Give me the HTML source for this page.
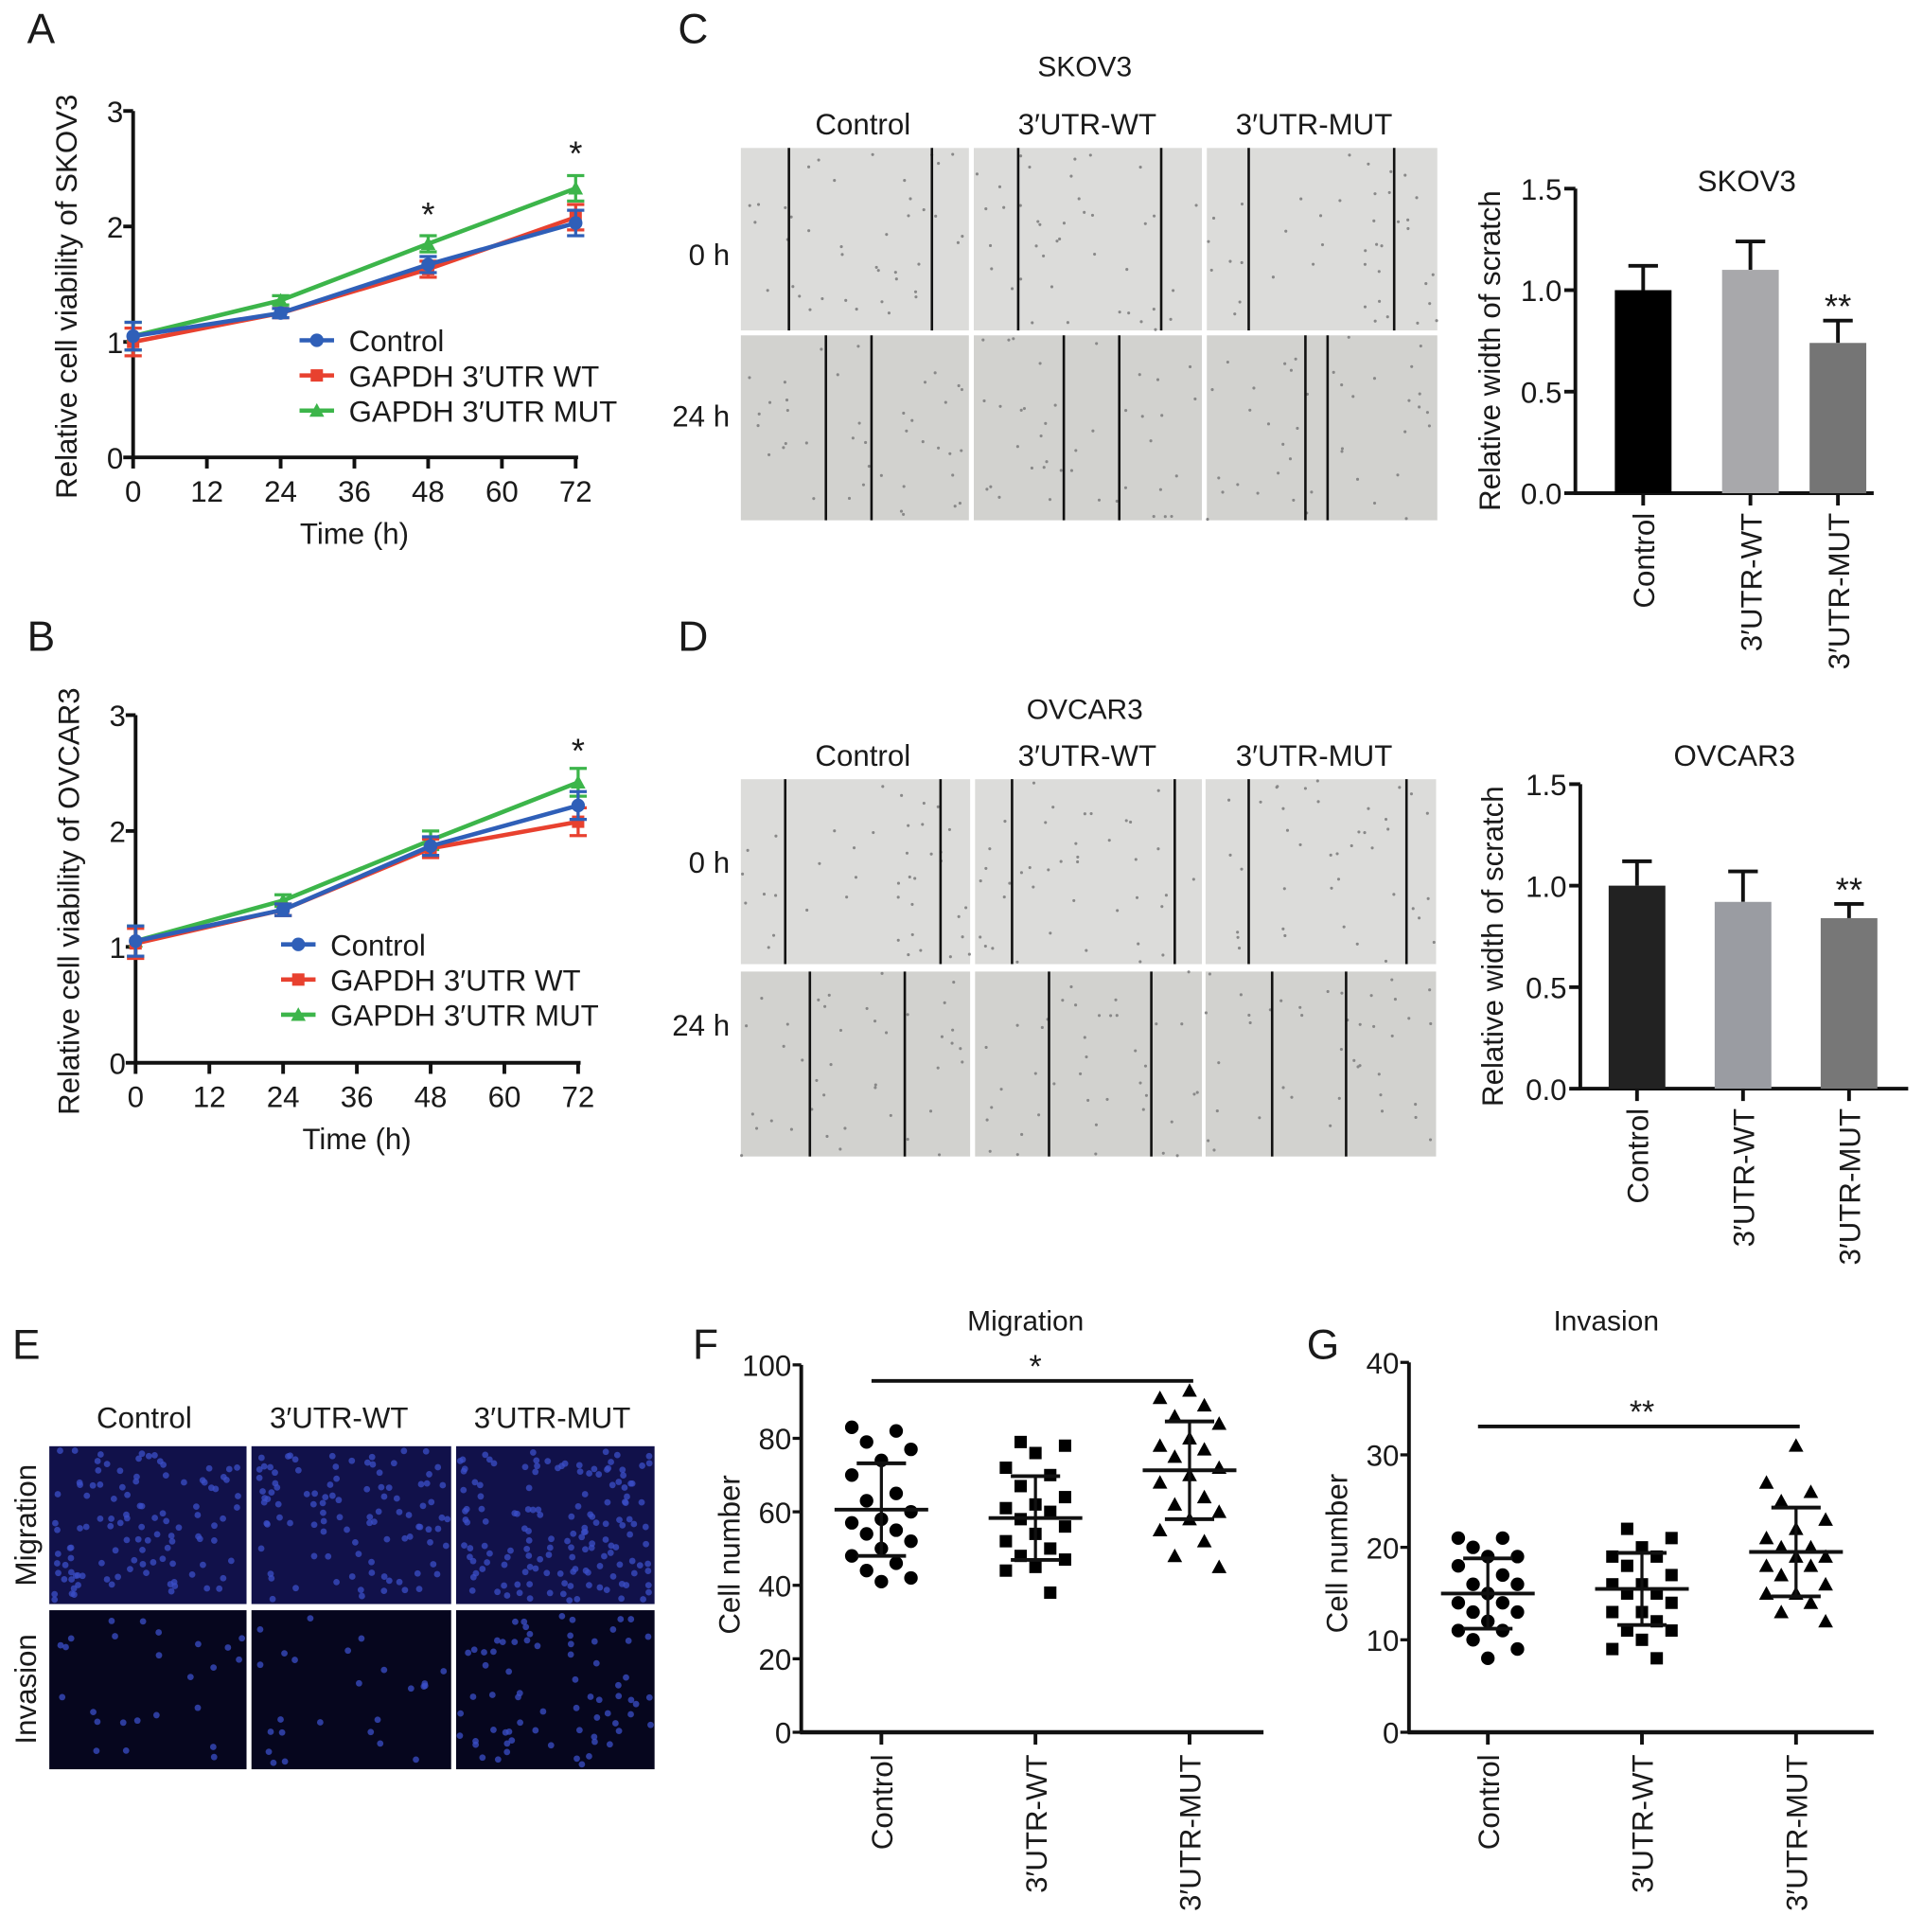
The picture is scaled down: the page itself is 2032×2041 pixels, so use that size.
<!DOCTYPE html>
<html><head><meta charset="utf-8"><style>
html,body{margin:0;padding:0;background:#fff}
svg{display:block}
text{font-family:"Liberation Sans",Arial,sans-serif;fill:#1a1a1a}
</style></head><body>
<svg id="fig" xmlns="http://www.w3.org/2000/svg" width="2032" height="2041" viewBox="0 0 1560 1567" preserveAspectRatio="none"></svg>
<script>
// ---- Panel A/B line chart data ----
const timeTicks = [0, 12, 24, 36, 48, 60, 72];
const timePoints = [0, 24, 48, 72];
const seriesNames = ["Control", "GAPDH 3\u2032UTR WT", "GAPDH 3\u2032UTR MUT"];
const aControl = [1.05, 1.25, 1.67, 2.03];
const aWT = [1.00, 1.25, 1.63, 2.08];
const aMUT = [1.05, 1.36, 1.85, 2.33];
const aErr = [0.12, 0.04, 0.07, 0.11];
const bControl = [1.05, 1.32, 1.87, 2.22];
const bWT = [1.03, 1.32, 1.85, 2.08];
const bMUT = [1.05, 1.40, 1.92, 2.42];
const bErr = [0.13, 0.05, 0.08, 0.12];
const viabTicks = [0, 1, 2, 3];
// ---- Panel C/D bar data ----
const barCats = ["Control", "3\u2032UTR-WT", "3\u2032UTR-MUT"];
const cValues = [1.0, 1.1, 0.74];
const cErrors = [0.12, 0.14, 0.11];
const dValues = [1.0, 0.92, 0.84];
const dErrors = [0.12, 0.15, 0.07];
const widthTicks = [0.0, 0.5, 1.0, 1.5];
const widthTickLabels = ["0.0", "0.5", "1.0", "1.5"];
// ---- Panel F/G scatter data ----
const fControl = [83,82,79,77,74,70,65,63,60,58,57,55,54,52,50,48,46,44,42,41];
const fWT = [79,78,76,72,70,67,64,62,61,60,58,56,54,52,50,48,47,45,44,38];
const fMUT = [93,91,89,86,84,80,78,77,75,72,70,68,64,62,60,58,55,52,48,45];
const fMean = [60.6, 58.3, 71.3];
const fSD = [12.6, 11.4, 13.3];
const fTicks = [0, 20, 40, 60, 80, 100];
const gControl = [21,21,20,19,19,18,17,16,16,15,14,14,13,13,12,11,11,10,9,8];
const gWT = [22,21,20,19,19,18,17,16,16,15,15,14,13,13,12,11,11,10,9,8];
const gMUT = [31,27,26,25,23,22,21,20,20,19,19,18,18,17,16,15,15,14,13,12];
const gMean = [15.0, 15.5, 19.5];
const gSD = [3.8, 3.9, 4.8];
const gTicks = [0, 10, 20, 30, 40];

const NS = "http://www.w3.org/2000/svg";
const svg = document.getElementById("fig");
function el(tag, attrs, parent) {
  const e = document.createElementNS(NS, tag);
  for (const k in attrs) e.setAttribute(k, attrs[k]);
  (parent || svg).appendChild(e);
  return e;
}
function txt(x, y, s, size, anchor, name, extra) {
  const t = el("text", Object.assign({x: x, y: y, "font-size": size, "text-anchor": anchor || "middle"}, extra || {}));
  t.textContent = s;
  
  
  return t;
}
function line(x1, y1, x2, y2, stroke, w, name, g) {
  const l = el("line", {x1: x1, y1: y1, x2: x2, y2: y2, stroke: stroke, "stroke-width": w}, g);
  
  
  return l;
}

// panel letters
[["A",22,35],["B",22,528],["C",550,35],["D",550,528],["E",10,1102],["F",562,1102],["G",1060,1102]].forEach(p => {
  txt(p[1], p[2], p[0], 34, "start", "panel-label-" + p[0].toLowerCase());
});

// ---------- line charts ----------
function lineChart(x0, y0, yTop, xEnd, ctrl, wt, mut, err, stars, legX, legY, yTitle, key) {
  const sx = t => x0 + (t / 72) * (xEnd - x0);
  const sy = v => y0 - (v / 3) * (y0 - yTop);
  const g = el("g", {});
  
  
  line(x0, yTop, x0, y0 + 1, "#111", 3, key + "-y-axis", g);
  line(x0 - 1, y0, xEnd + 2, y0, "#111", 3, key + "-x-axis", g);
  viabTicks.forEach(v => {
    line(x0 - 8, sy(v), x0, sy(v), "#111", 3, key + "-y-tick", g);
    txt(x0 - 8, sy(v) + 9, String(v), 24, "end", key + "-y-tick-label");
  });
  timeTicks.forEach(t => {
    line(sx(t), y0, sx(t), y0 + 9, "#111", 3, key + "-x-tick", g);
    txt(sx(t), y0 + 36, String(t), 24, "middle", key + "-x-tick-label");
  });
  txt((x0 + xEnd) / 2, y0 + 70, "Time (h)", 24, "middle", key + "-x-axis-title");
  txt(0, 0, yTitle, 24, "middle", key + "-y-axis-title", {transform: "translate(" + (x0 - 46) + "," + ((y0 + yTop) / 2 + 10) + ") rotate(-90)"});
  const cols = ["#2f5fb8", "#e8412f", "#3cb54a"];
  const sets = [ctrl, wt, mut];
  const order = [2, 1, 0];
  order.forEach(si => {
    const vals = sets[si];
    const pts = vals.map((v, i) => sx(timePoints[i]) + "," + sy(v)).join(" ");
    const pl = el("polyline", {points: pts, fill: "none", stroke: cols[si], "stroke-width": 3.5}, g);
    
    
    vals.forEach((v, i) => {
      const x = sx(timePoints[i]);
      line(x, sy(v - err[i]), x, sy(v + err[i]), cols[si], 2.5, key + "-error-bar", g);
      line(x - 7, sy(v + err[i]), x + 7, sy(v + err[i]), cols[si], 2.5, key + "-error-cap", g);
      line(x - 7, sy(v - err[i]), x + 7, sy(v - err[i]), cols[si], 2.5, key + "-error-cap", g);
      let m;
      if (si === 0) m = el("circle", {cx: x, cy: sy(v), r: 5.5, fill: cols[si]}, g);
      else if (si === 1) m = el("rect", {x: x - 5, y: sy(v) - 5, width: 10, height: 10, fill: cols[si]}, g);
      else m = el("polygon", {points: (x-6)+","+(sy(v)+5)+" "+(x+6)+","+(sy(v)+5)+" "+x+","+(sy(v)-6), fill: cols[si]}, g);
      
      
    });
  });
  stars.forEach(s => txt(sx(s[0]), sy(s[1]) + 12, "*", 28, "middle", key + "-significance-star"));
  seriesNames.forEach((n, i) => {
    const y = legY + i * 28.5;
    line(legX, y, legX + 28, y, cols[i], 3.5, key + "-legend-line", g);
    let m;
    if (i === 0) m = el("circle", {cx: legX + 14, cy: y, r: 5.5, fill: cols[i]}, g);
    else if (i === 1) m = el("rect", {x: legX + 9, y: y - 5, width: 10, height: 10, fill: cols[i]}, g);
    else m = el("polygon", {points: (legX+8)+","+(y+5)+" "+(legX+20)+","+(y+5)+" "+(legX+14)+","+(y-6), fill: cols[i]}, g);
    
    
    txt(legX + 40, y + 9, n, 24, "start", key + "-legend-entry");
  });
}
lineChart(108, 371, 90, 467, aControl, aWT, aMUT, aErr, [[48, 2.13], [72, 2.66]], 243, 276, "Relative cell viability of SKOV3", "a");
lineChart(110, 862, 580, 469, bControl, bWT, bMUT, bErr, [[72, 2.72]], 228, 766, "Relative cell viability of OVCAR3", "b");

// ---------- scratch images ----------
function scratchPanel(title, titleY, headY, xs, rows, labelYs, lines, key, seedBase) {
  txt(880, titleY, title, 23, "middle", key + "-cell-line-title");
  const hx = [700, 882, 1066];
  barCats.forEach((c, i) => txt(hx[i], headY, c, 24, "middle", key + "-column-header"));
  const rl = ["0 h", "24 h"];
  rows.forEach((r, ri) => {
    txt(592, labelYs[ri], rl[ri], 24, "end", key + "-row-label");
    xs.forEach((c, ci) => {
      const rc = el("rect", {x: c[0], y: r[0], width: c[1] - c[0], height: r[1] - r[0], fill: ri === 0 ? "#dcdcda" : "#d2d2cf"});
      
      
      let s = seedBase + ri * 7 + ci * 13;
      for (let k = 0; k < 40; k++) {
        s = (s * 9301 + 49297) % 233280;
        const px = c[0] + (s / 233280) * (c[1] - c[0]);
        s = (s * 9301 + 49297) % 233280;
        const py = r[0] + (s / 233280) * (r[1] - r[0]);
        const d = el("circle", {cx: px, cy: py, r: 1.2, fill: "#888"});
        
        
      }
      lines[ri][ci].forEach(lx => line(lx, r[0], lx, r[1], "#111", 2, key + "-scratch-edge"));
    });
  });
}
scratchPanel("SKOV3", 62, 109, [[601,786],[790,975],[979,1166]], [[120,268],[272,422]], [215, 346],
  [[[640,756],[826,942],[1013,1131]], [[670,707],[863,908],[1059,1077]]], "c", 11);
scratchPanel("OVCAR3", 583, 621, [[601,787],[791,975],[978,1165]], [[632,782],[788,938]], [708, 840],
  [[[637,763],[821,953],[1013,1141]], [[657,734],[851,934],[1032,1092]]], "d", 37);

// ---------- bar charts ----------
function barChart(x0, y0, yTop, xEnd, centers, vals, errs, colors, title, titleX, titleY, starIdx, yTitleX, key) {
  const sy = v => y0 - (v / 1.5) * (y0 - yTop);
  line(x0, yTop, x0, y0 + 1, "#111", 3, key + "-y-axis");
  line(x0 - 1, y0, xEnd, y0, "#111", 3, key + "-x-axis");
  widthTicks.forEach((v, i) => {
    line(x0 - 9, sy(v), x0, sy(v), "#111", 3, key + "-y-tick");
    txt(x0 - 11, sy(v) + 9, widthTickLabels[i], 24, "end", key + "-y-tick-label");
  });
  txt(titleX, titleY, title, 24, "middle", key + "-chart-title");
  txt(0, 0, "Relative width of scratch", 24, "middle", key + "-y-axis-title", {transform: "translate(" + yTitleX + "," + ((y0 + yTop) / 2 + 8) + ") rotate(-90)"});
  vals.forEach((v, i) => {
    const c = centers[i];
    line(c, sy(v), c, sy(v + errs[i]), "#111", 3, key + "-error-bar");
    line(c - 12, sy(v + errs[i]), c + 12, sy(v + errs[i]), "#111", 3, key + "-error-cap");
    const b = el("rect", {x: c - 23, y: sy(v), width: 46, height: y0 - sy(v), fill: colors[i]});
    
    
    line(c, y0, c, y0 + 10, "#111", 3, key + "-x-tick");
    txt(0, 0, barCats[i], 24, "end", key + "-x-tick-label", {transform: "translate(" + (c + 9) + "," + (y0 + 16) + ") rotate(-90)"});
  });
  const si = starIdx;
  txt(centers[si], sy(vals[si] + errs[si]) - 2, "**", 28, "middle", key + "-significance-star");
}
barChart(1278, 400, 153, 1520, [1333, 1420, 1491], cValues, cErrors, ["#000", "#a8a8ab", "#757575"], "SKOV3", 1417, 155, 2, 1217, "c");
barChart(1282, 883, 636, 1548, [1328, 1414, 1500], dValues, dErrors, ["#222", "#9a9ca2", "#777"], "OVCAR3", 1407, 621, 2, 1219, "d");

// ---------- panel E fluorescence ----------
const eHead = [117, 275, 448];
barCats.forEach((c, i) => txt(eHead[i], 1158, c, 24, "middle", "e-column-header"));
txt(0, 0, "Migration", 24, "middle", "e-row-label", {transform: "translate(29,1237) rotate(-90)"});
txt(0, 0, "Invasion", 24, "middle", "e-row-label", {transform: "translate(29,1370) rotate(-90)"});
const eCols = [[40,200],[204,366],[370,531]];
const eRows = [[1173,1301],[1306,1435]];
const eCounts = [[110,100,150],[25,25,70]];
eRows.forEach((r, ri) => eCols.forEach((c, ci) => {
  const rc = el("rect", {x: c[0], y: r[0], width: c[1] - c[0], height: r[1] - r[0], fill: ri === 0 ? "#11114a" : "#06061e"});
  
  
  let s = 101 + ri * 31 + ci * 17;
  for (let k = 0; k < eCounts[ri][ci]; k++) {
    s = (s * 9301 + 49297) % 233280;
    const px = c[0] + 3 + (s / 233280) * (c[1] - c[0] - 6);
    s = (s * 9301 + 49297) % 233280;
    const py = r[0] + 3 + (s / 233280) * (r[1] - r[0] - 6);
    const d = el("circle", {cx: px, cy: py, r: 2.6, fill: "#3b4fc8", opacity: 0.75});
    
    
  }
}));

// ---------- scatter charts ----------
function scatter(x0, y0, yTop, yMax, xEnd, centers, groups, means, sds, ticks, title, titleX, sig, sigY, key) {
  const sy = v => y0 - (v / yMax) * (y0 - yTop);
  line(x0, yTop, x0, y0 + 1, "#111", 3, key + "-y-axis");
  line(x0 - 1, y0, xEnd, y0, "#111", 3.5, key + "-x-axis");
  ticks.forEach(v => {
    line(x0 - 7, sy(v), x0, sy(v), "#111", 2.5, key + "-y-tick");
    txt(x0 - 8, sy(v) + 9, String(v), 24, "end", key + "-y-tick-label");
  });
  txt(titleX, 1079, title, 23, "middle", key + "-chart-title");
  txt(0, 0, "Cell number", 24, "middle", key + "-y-axis-title", {transform: "translate(" + (x0 - 50) + "," + ((y0 + yTop) / 2 + 5) + ") rotate(-90)"});
  line(centers[0] - 8, sigY, centers[2] + 3, sigY, "#111", 3, key + "-significance-line");
  txt((centers[0] + centers[2]) / 2, sigY - 3, sig, 26, "middle", key + "-significance-star");
  const offs = [-24, -12, 0, 12, 24];
  groups.forEach((vals, gi) => {
    const c = centers[gi];
    vals.forEach((v, i) => {
      const x = c + offs[(i * 3 + gi) % 5];
      const y = sy(v);
      let m;
      if (gi === 0) m = el("circle", {cx: x, cy: y, r: 5.5, fill: "#000"});
      else if (gi === 1) m = el("rect", {x: x - 5, y: y - 5, width: 10, height: 10, fill: "#000"});
      else m = el("polygon", {points: (x-6)+","+(y+5)+" "+(x+6)+","+(y+5)+" "+x+","+(y-6), fill: "#000"});
      
      
    });
    line(c - 38, sy(means[gi]), c + 38, sy(means[gi]), "#111", 3, key + "-mean-line");
    line(c, sy(means[gi] - sds[gi]), c, sy(means[gi] + sds[gi]), "#111", 2.5, key + "-sd-bar");
    line(c - 20, sy(means[gi] + sds[gi]), c + 20, sy(means[gi] + sds[gi]), "#111", 3, key + "-sd-cap");
    line(c - 20, sy(means[gi] - sds[gi]), c + 20, sy(means[gi] - sds[gi]), "#111", 3, key + "-sd-cap");
    line(c, y0, c, y0 + 10, "#111", 3, key + "-x-tick");
    txt(0, 0, barCats[gi], 24, "end", key + "-x-tick-label", {transform: "translate(" + (c + 9) + "," + (y0 + 18) + ") rotate(-90)"});
  });
}
scatter(650, 1405, 1107, 100, 1025, [715, 840, 965], [fControl, fWT, fMUT], fMean, fSD, fTicks, "Migration", 832, "*", 1120, "f");
scatter(1143, 1405, 1105, 40, 1520, [1207, 1332, 1457], [gControl, gWT, gMUT], gMean, gSD, gTicks, "Invasion", 1303, "**", 1157, "g");
</script>
</body></html>
